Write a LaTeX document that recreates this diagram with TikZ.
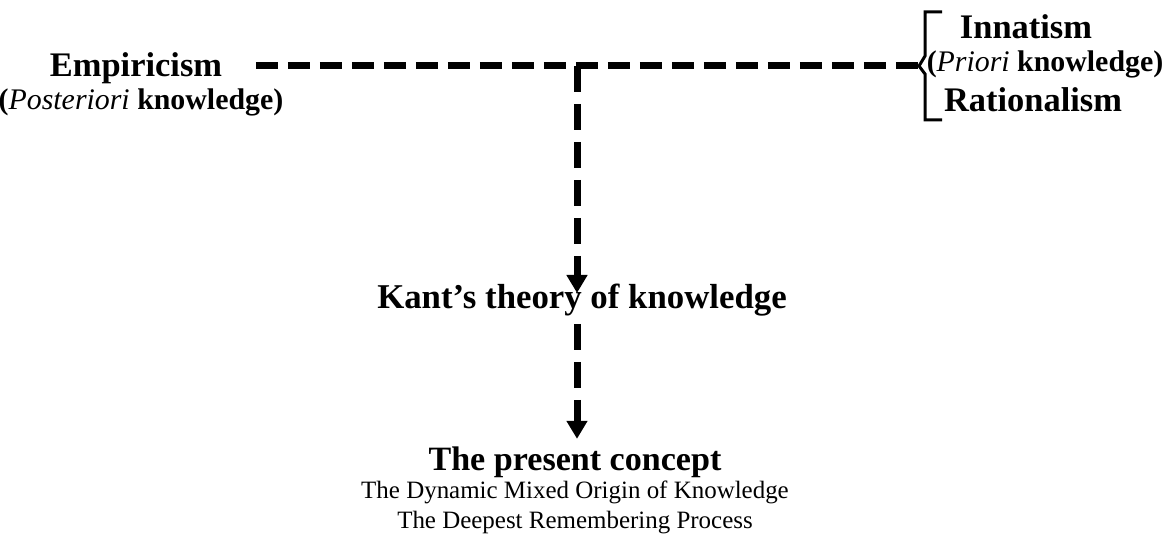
\documentclass[tikz,border=0pt]{standalone}
\usepackage{fontspec}
\setmainfont{Liberation Serif}
\usetikzlibrary{arrows.meta, positioning, calc}

\tikzset{
  school/.style={font=\fontsize{9.8}{12}\selectfont\bfseries, inner sep=0pt},
  kind/.style={font=\fontsize{8.5}{10}\selectfont\bfseries, inner sep=0pt},
  theory/.style={font=\fontsize{9.9}{12}\selectfont\bfseries, inner sep=0pt},
  concept/.style={font=\fontsize{9.7}{12}\selectfont\bfseries, inner sep=0pt},
  detail/.style={font=\fontsize{7.1}{9}\selectfont, inner sep=0pt},
  dashline/.style={line width=0.07cm, dash pattern=on 0.22cm off 0.10cm},
  dasharr/.style={line width=0.07cm, dash pattern=on 0.26cm off 0.12cm,
                  -{Triangle[length=0.18cm, width=0.20cm]}}
}

\begin{document}
\begin{tikzpicture}
  \useasboundingbox (0,0) rectangle (11.69,-5.52);

  % Left side
  \node[school] (emp) at (1.36,-0.68) {Empiricism};
  \node[kind] (post) at (1.41,-1.02) {({\mdseries\itshape Posteriori} knowledge)};

  % Right side
  \node[school] (innat) at (10.26,-0.27) {Innatism};
  \node[kind] (prior) at (10.45,-0.64) {({\mdseries\itshape Priori} knowledge)};
  \node[school] (ratio) at (10.33,-1.00) {Rationalism};
  \coordinate (nub) at (9.19,-0.66);
  \draw[line width=0.03cm] (9.42,-0.12) -- (9.25,-0.12) -- (9.25,-0.56)
        -- (nub) -- (9.25,-0.74) -- (9.25,-1.20) -- (9.42,-1.20);

  % Middle
  \node[theory] (kant) at (5.82,-3.00) {Kant’s theory of knowledge};
  \node[concept] (pres) at (5.75,-4.62) {The present concept};
  \node[detail] (dyn) at (5.75,-4.92) {The Dynamic Mixed Origin of Knowledge};
  \node[detail] (deep) at (5.75,-5.23) {The Deepest Remembering Process};

  % Connectors
  \coordinate (junc) at (5.77,-0.66);
  \draw[dashline, shorten <=0.33cm] (emp.east |- nub) -- (nub);
  \draw[dasharr, shorten >=0.07cm] (junc) -- (kant.center -| junc);
  \draw[dasharr, shorten <=0.07cm, shorten >=0.07cm] (kant.south -| junc) -- (pres.north -| junc);
\end{tikzpicture}
\end{document}
